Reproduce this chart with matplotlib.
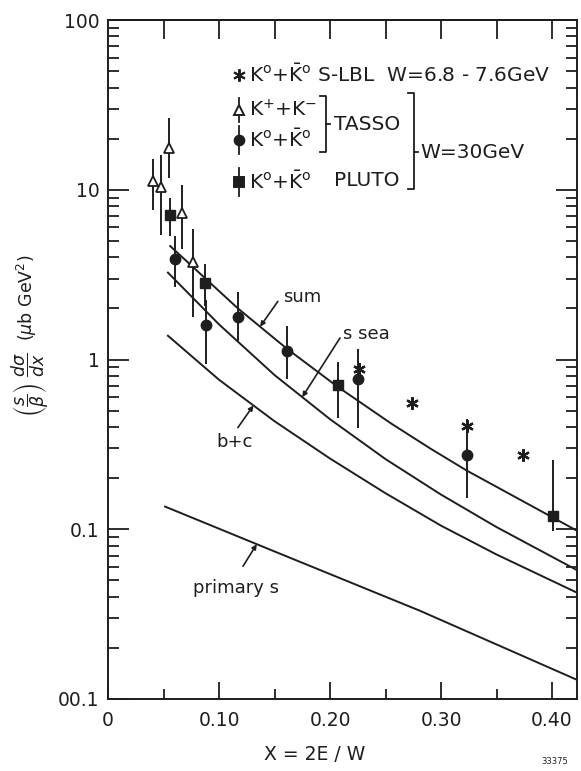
import matplotlib
matplotlib.use("Agg")
import matplotlib.pyplot as plt
import numpy as np

# ---- data ----
# S-LBL K0+K0bar, W = 6.8-7.6 GeV
slbl_x = [0.226, 0.274, 0.323, 0.374]
slbl_y = [0.875, 0.555, 0.408, 0.273]

# TASSO K+ + K-
tk_x = [0.0405, 0.048, 0.055, 0.0667, 0.0766]
tk_y = [11.3, 10.4, 17.6, 7.3, 3.73]
tk_lo = [7.6, 5.4, 11.8, 4.47, 1.77]
tk_hi = [15.1, 16.0, 26.3, 10.7, 5.9]

# TASSO K0 + K0bar
tk0_x = [0.060, 0.088, 0.117, 0.161, 0.225, 0.323]
tk0_y = [3.89, 1.60, 1.79, 1.12, 0.765, 0.273]
tk0_lo = [2.68, 0.935, 1.28, 0.765, 0.397, 0.153]
tk0_hi = [5.36, 2.24, 2.50, 1.58, 1.16, 0.448]

# PLUTO K0 + K0bar
pl_x = [0.056, 0.0874, 0.207, 0.401]
pl_y = [7.07, 2.83, 0.706, 0.120]
pl_lo = [5.36, 2.08, 0.454, 0.0975]
pl_hi = [8.95, 3.63, 0.97, 0.255]

# model curves
sum_x = [0.056, 0.117, 0.161, 0.207, 0.255, 0.290, 0.323, 0.4225]
sum_y = [4.66, 2.0, 1.16, 0.69, 0.42, 0.30, 0.222, 0.098]
sea_x = [0.054, 0.10, 0.15, 0.20, 0.25, 0.30, 0.35, 0.4225]
sea_y = [3.25, 1.61, 0.81, 0.445, 0.259, 0.160, 0.103, 0.0574]
bc_x = [0.054, 0.10, 0.15, 0.20, 0.25, 0.30, 0.35, 0.4225]
bc_y = [1.38, 0.76, 0.433, 0.261, 0.163, 0.105, 0.071, 0.0423]
prim_x = [0.0514, 0.15, 0.281, 0.421]
prim_y = [0.136, 0.074, 0.0331, 0.0131]

xticks = [0, 0.10, 0.20, 0.30, 0.40]
xticklabels = ["0", "0.10", "0.20", "0.30", "0.40"]
yticks = [0.01, 0.1, 1, 10, 100]
yticklabels = ["00.1", "0.1", "1", "10", "100"]

INK = "#1e1e1e"
plt.rcParams["font.family"] = ["DejaVu Sans"]
plt.rcParams["mathtext.fontset"] = "dejavusans"

W, H = 581, 771
fig = plt.figure(figsize=(W / 100, H / 100), dpi=100)
L, R, T, B = 108, 577, 20, 699
ax = fig.add_axes([L / W, 1 - B / H, (R - L) / W, (B - T) / H])
ax.set_yscale("log")
ax.set_xlim(0, 0.4225)
ax.set_ylim(0.01, 100)


def axf(px, py):
    # pixel position of the scan -> axes fraction
    return (px - L) / (R - L), (B - py) / (B - T)


def on_curve(xs, ys, x):
    return 10 ** np.interp(x, xs, np.log10(ys))


# curves
for cx, cy in [(sum_x, sum_y), (sea_x, sea_y), (bc_x, bc_y), (prim_x, prim_y)]:
    ax.plot(cx, cy, color=INK, lw=1.4)


def err(y, lo, hi):
    y = np.array(y)
    return [y - np.array(lo), np.array(hi) - y]


# data points
ax.errorbar(tk_x, tk_y, yerr=err(tk_y, tk_lo, tk_hi), fmt="^", ms=7,
            mfc="white", mec=INK, mew=1.3, ecolor=INK, elinewidth=1.4, capsize=0)
ax.errorbar(tk0_x, tk0_y, yerr=err(tk0_y, tk0_lo, tk0_hi), fmt="o", ms=7.5,
            mfc=INK, mec=INK, ecolor=INK, elinewidth=1.4, capsize=0)
ax.errorbar(pl_x, pl_y, yerr=err(pl_y, pl_lo, pl_hi), fmt="s", ms=7,
            mfc=INK, mec=INK, ecolor=INK, elinewidth=1.4, capsize=0)
ax.plot(slbl_x, slbl_y, ls="none", marker=(6, 2, 0), ms=9, mec=INK, mew=1.6)

# curve labels with leader arrows
arrow = dict(arrowstyle="-|>", color=INK, lw=1.2, mutation_scale=7,
             shrinkA=0, shrinkB=0)
labels = [
    ("sum", sum_x, sum_y, 0.137, (0.153, 2.2), (0.158, 2.33), "left"),
    ("s sea", sea_x, sea_y, 0.175, (0.209, 1.34), (0.212, 1.415), "left"),
    ("b+c", bc_x, bc_y, 0.131, (0.117, 0.397), (0.1144, 0.325), "center"),
    ("primary s", prim_x, prim_y, 0.134, (0.1216, 0.0605), (0.115, 0.0452), "center"),
]
for txt, cx, cy, tx, start, pos, ha in labels:
    ax.annotate("", xy=(tx, on_curve(cx, cy, tx)), xytext=start, arrowprops=arrow)
    ax.text(pos[0], pos[1], txt, ha=ha, va="center", fontsize=13, color=INK)

# legend block
kk0 = r"K$^\mathrm{o}$+$\bar{\mathrm{K}}^\mathrm{o}$"
rows = [
    (75, (6, 2, 0), INK, kk0 + " S-LBL  W=6.8 - 7.6GeV", 4),
    (110, "^", "white", r"K$^{+}$+K$^{-}$", 12),
    (140, "o", INK, kk0, 14),
    (182, "s", INK, kk0, 14),
]
for py, mk, fc, txt, half in rows:
    x0, y0 = axf(239, py)
    _, y1 = axf(239, py - half)
    _, y2 = axf(239, py + half)
    ax.plot([x0, x0], [y1, y2], color=INK, lw=1.3, transform=ax.transAxes, clip_on=False)
    ax.plot([x0], [y0], marker=mk, ms=7 if mk != (6, 2, 0) else 9, mfc=fc, mec=INK,
            mew=1.4, transform=ax.transAxes, clip_on=False)
    tx, ty = axf(249, py)
    ax.text(tx, ty, txt, transform=ax.transAxes, ha="left", va="center",
            fontsize=14.5, color=INK)

for txt, px, py in [("TASSO", 334, 124), ("PLUTO", 334, 181), ("W=30GeV", 420, 153)]:
    tx, ty = axf(px, py)
    ax.text(tx, ty, txt, transform=ax.transAxes, ha="left", va="center",
            fontsize=14.5, color=INK)


def bracket(x, y_top, y_bot, y_mid, arm=6, nub=4):
    xs = [x - arm, x, x, x - arm]
    ys = [y_top, y_top, y_bot, y_bot]
    pts = [axf(a, b) for a, b in zip(xs, ys)]
    ax.plot([p[0] for p in pts], [p[1] for p in pts], color=INK, lw=1.3,
            transform=ax.transAxes, clip_on=False)
    m0, m1 = axf(x, y_mid), axf(x + nub, y_mid)
    ax.plot([m0[0], m1[0]], [m0[1], m1[1]], color=INK, lw=1.3,
            transform=ax.transAxes, clip_on=False)


bracket(326, 96, 152, 124)
bracket(414, 93, 189, 152)

# axes styling
for s in ax.spines.values():
    s.set_color(INK)
    s.set_linewidth(1.4)
ax.set_xticks(xticks)
ax.set_xticklabels(xticklabels)
ax.set_xticks(np.arange(0.05, 0.42, 0.1), minor=True)
ax.set_yticks(yticks)
ax.set_yticklabels(yticklabels)
ax.yaxis.set_minor_locator(matplotlib.ticker.LogLocator(base=10, subs=np.arange(2, 10)))
ax.yaxis.set_minor_formatter(matplotlib.ticker.NullFormatter())
ax.tick_params(axis="both", which="both", direction="in", colors=INK,
               labelsize=13.5, width=1.3)
ax.tick_params(axis="x", which="major", length=12, pad=9)
ax.tick_params(axis="x", which="minor", length=7)
ax.tick_params(axis="y", which="major", length=15, right=True, pad=6)
ax.tick_params(axis="y", which="minor", length=8, right=True)

top = ax.secondary_xaxis("top")
top.set_xticks(np.arange(0.05, 0.42, 0.05))
top.tick_params(direction="in", length=14, width=1.3, labeltop=False, colors=INK)
top.spines["top"].set_linewidth(1.4)

ax.set_xlabel("X = 2E / W", fontsize=13.5, color=INK)
ax.xaxis.set_label_coords(0.44, -0.068)
ax.set_ylabel(r"$\left(\dfrac{s}{\beta}\right)\ \dfrac{d\sigma}{dx}\ \ (\mu\mathrm{b\ GeV}^2)$",
              fontsize=12.5, color=INK)
ax.yaxis.set_label_coords(-0.122, 0.535)

fig.text(555 / W, 1 - 762 / H, "33375", fontsize=6, ha="center", va="center", color=INK)

fig.savefig("out.png", dpi=100, facecolor="white")
